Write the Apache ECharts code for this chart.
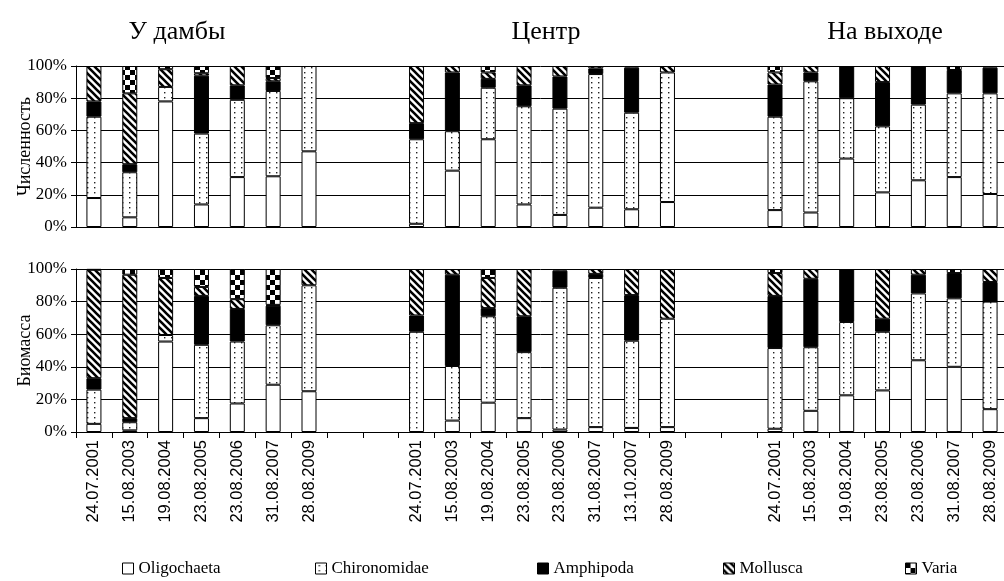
<!DOCTYPE html>
<html>
<head>
<meta charset="utf-8">
<script src="https://cdn.jsdelivr.net/npm/echarts@6/dist/echarts.min.js"></script>
<style>
  html, body { margin: 0; padding: 0; background: #fff; }
  #chart { width: 1004px; height: 581px; }
</style>
</head>
<body>
<div id="chart"></div>
<script>
// Sampling sites and survey dates
const sites = ['У дамбы', 'Центр', 'На выходе'];
const datesDam = ['24.07.2001', '15.08.2003', '19.08.2004', '23.08.2005', '23.08.2006', '31.08.2007', '28.08.2009'];
const datesCenter = ['24.07.2001', '15.08.2003', '19.08.2004', '23.08.2005', '23.08.2006', '31.08.2007', '13.10.2007', '28.08.2009'];
const datesOut = ['24.07.2001', '15.08.2003', '19.08.2004', '23.08.2005', '23.08.2006', '31.08.2007', '28.08.2009'];
const taxa = ['Oligochaeta', 'Chironomidae', 'Amphipoda', 'Mollusca', 'Varia'];
const yTicks = [0, 20, 40, 60, 80, 100];

// Численность, % (order of rows follows taxa)
const countDam = [
  [18, 6, 78, 14, 31, 31.5, 47],
  [50.5, 28, 9, 44, 48, 53, 53],
  [9.5, 5, 0, 36, 9, 6, 0],
  [22, 44, 11, 1.5, 12, 2, 0],
  [0, 17, 2, 4.5, 0, 7.5, 0]
];
const countCenter = [
  [2, 35, 54.5, 14, 7.5, 12, 11, 15.5],
  [52.5, 24.5, 32, 61, 66, 83, 60, 80.5],
  [10, 36.5, 5.5, 13, 20, 3.5, 28, 0],
  [35.5, 4, 4, 12, 6.5, 1.5, 0, 4],
  [0, 0, 4, 0, 0, 0, 1, 0]
];
const countOut = [
  [10.5, 9, 42.5, 21.5, 29, 31, 20.5],
  [58, 81.5, 37.5, 41, 47, 52, 62.5],
  [20, 5.5, 20, 27.5, 24, 14.5, 16],
  [7.5, 4, 0, 10, 0, 0, 1],
  [4, 0, 0, 0, 0, 2.5, 0]
];

// Биомасса, %
const massDam = [
  [5, 1, 55.5, 8.5, 17.5, 29, 25],
  [21, 5, 4, 45, 38, 36.5, 65],
  [7, 2.5, 0, 30, 20, 12, 0],
  [66.5, 88, 35, 5.5, 6, 0.5, 10],
  [0.5, 3.5, 5.5, 11, 18.5, 22, 0]
];
const massCenter = [
  [0, 7, 18, 8.5, 1.5, 3, 2.5, 3],
  [61.5, 33.5, 53, 40.5, 87, 91.5, 53.5, 66.5],
  [10, 56, 5, 22, 10.5, 2.5, 28, 0],
  [28.5, 3.5, 18.5, 29, 1, 3, 16, 30.5],
  [0, 0, 5.5, 0, 0, 0, 0, 0]
];
const massOut = [
  [2, 13, 22.5, 25.5, 44, 40, 14],
  [49.5, 39, 45, 36, 41, 42, 66],
  [32, 42, 32.5, 8, 11.5, 15.5, 12],
  [14, 6, 0, 30.5, 3.5, 0, 8],
  [2.5, 0, 0, 0, 0, 2.5, 0]
];

// Two empty slots separate the sites on the category axis
const GAP = 2;
const gapLabels = new Array(GAP).fill('');
const gapValues = new Array(GAP).fill('-');
const categories = [].concat(datesDam, gapLabels, datesCenter, gapLabels, datesOut);
// Zero shares are left out so that no empty outlined segment is drawn
function skipZero(row) { return row.map((v) => (v === 0 ? '-' : v)); }
function joinRow(a, b, c) { return [].concat(skipZero(a), gapValues, skipZero(b), gapValues, skipZero(c)); }

// Fill patterns
function makeTile(w, h, draw) {
  const c = document.createElement('canvas');
  c.width = w; c.height = h;
  const ctx = c.getContext('2d');
  ctx.fillStyle = '#fff';
  ctx.fillRect(0, 0, w, h);
  draw(ctx, w, h);
  return { image: c, repeat: 'repeat' };
}
const dotFill = makeTile(7, 5, (ctx) => {
  ctx.fillStyle = '#222';
  ctx.fillRect(3, 2, 1.4, 1.4);
});
const hatchFill = makeTile(7, 7, (ctx, w, h) => {
  ctx.strokeStyle = '#000';
  ctx.lineWidth = 2.6;
  ctx.beginPath();
  ctx.moveTo(-1, -1); ctx.lineTo(w + 1, h + 1);
  ctx.moveTo(-1, h - 1); ctx.lineTo(1, h + 1);
  ctx.moveTo(w - 1, -1); ctx.lineTo(w + 1, 1);
  ctx.stroke();
});
const checkFill = makeTile(10, 10, (ctx) => {
  ctx.fillStyle = '#000';
  ctx.fillRect(0, 0, 5, 5);
  ctx.fillRect(5, 5, 5, 5);
});
const fills = ['#ffffff', dotFill, '#000000', hatchFill, checkFill];

const serif = "'Liberation Serif', 'Times New Roman', serif";
const sans = "'Liberation Sans', Arial, sans-serif";

const countRows = taxa.map((t, i) => joinRow(countDam[i], countCenter[i], countOut[i]));
const massRows = taxa.map((t, i) => joinRow(massDam[i], massCenter[i], massOut[i]));

function makeSeries(rows, gridIdx) {
  return taxa.map((name, i) => ({
    name: name,
    type: 'bar',
    stack: 'g' + gridIdx,
    xAxisIndex: gridIdx,
    yAxisIndex: gridIdx,
    barWidth: 15,
    data: rows[i],
    itemStyle: { color: fills[i], borderColor: '#000', borderWidth: 1 },
    emphasis: { disabled: true },
    animation: false
  }));
}

function yAxis(gridIdx, name) {
  return {
    type: 'value', gridIndex: gridIdx, min: 0, max: 100, interval: 20,
    name: name, nameLocation: 'middle', nameRotate: 90, nameGap: 42,
    nameMoveOverlap: false,
    nameTextStyle: { fontFamily: serif, fontSize: 18, color: '#000' },
    axisLine: { show: true, lineStyle: { color: '#000', width: 1 } },
    axisTick: { show: true, length: 5, lineStyle: { color: '#000' } },
    axisLabel: {
      fontFamily: serif, fontSize: 17, color: '#000', margin: 9,
      formatter: (v) => (yTicks.indexOf(v) >= 0 ? v + '%' : '')
    },
    splitLine: { show: true, lineStyle: { color: '#000', width: 1 } }
  };
}

const legendX = [117, 310, 532, 718, 900];
const legends = taxa.map((name, i) => ({
  data: [name], left: legendX[i], top: 555,
  icon: 'rect', itemWidth: 11, itemHeight: 11,
  itemStyle: { borderColor: '#000', borderWidth: 1 },
  textStyle: { fontFamily: serif, fontSize: 17, color: '#000' },
  selectedMode: false
}));

const titleX = [172, 541, 880];
const titles = sites.map((s, i) => ({
  text: s, left: titleX[i], top: 14, textAlign: 'center',
  textStyle: { fontFamily: serif, fontSize: 26, fontWeight: 'normal', color: '#000' }
}));

const chart = echarts.init(document.getElementById('chart'), null, { renderer: 'canvas' });
chart.setOption({
  backgroundColor: '#fff',
  animation: false,
  title: titles,
  legend: legends,
  grid: [
    { left: 76, right: -4, top: 66, height: 161, outerBoundsMode: 'none', containLabel: false },
    { left: 76, right: -4, top: 269, height: 163, outerBoundsMode: 'none', containLabel: false }
  ],
  xAxis: [
    {
      type: 'category', gridIndex: 0, data: categories,
      axisLine: { show: true, lineStyle: { color: '#000', width: 1 } },
      axisTick: { show: false }, axisLabel: { show: false }
    },
    {
      type: 'category', gridIndex: 1, data: categories,
      axisLine: { show: true, lineStyle: { color: '#000', width: 1 } },
      axisTick: { show: true, interval: 0, length: 6, lineStyle: { color: '#000' } },
      axisLabel: { interval: 0, rotate: 90, margin: 8, fontFamily: sans, fontSize: 16.5, color: '#000' }
    }
  ],
  yAxis: [yAxis(0, 'Численность'), yAxis(1, 'Биомасса')],
  series: makeSeries(countRows, 0).concat(makeSeries(massRows, 1))
});
</script>
</body>
</html>
